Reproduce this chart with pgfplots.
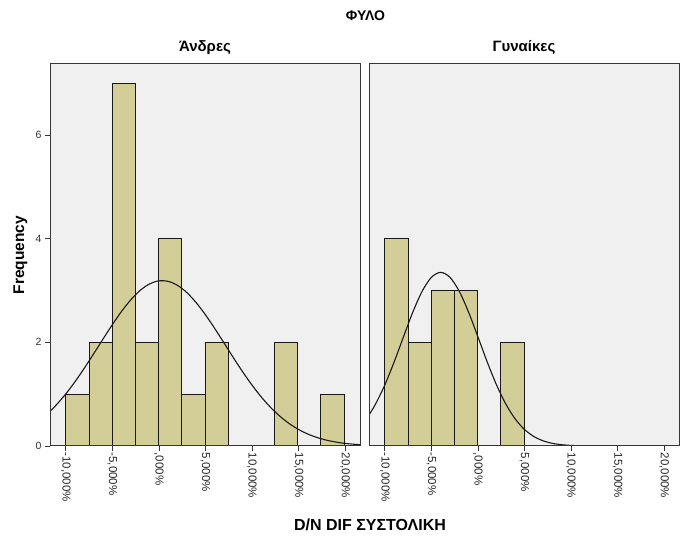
\documentclass[border=0pt]{standalone}
\usepackage{fontspec}
\setmainfont{Liberation Sans}
\usepackage{pgfplots}
\pgfplotsset{compat=1.18}
\definecolor{barfill}{RGB}{211,206,151}
\definecolor{panelbg}{RGB}{240,240,240}
\definecolor{framec}{RGB}{55,55,55}
\pgfplotsset{
  panel/.style={
    scale only axis, width=310bp, height=382bp,
    xmin=-11.7, xmax=21.6, ymin=0, ymax=7.37,
    axis background/.style={fill=panelbg},
    axis line style={framec, line width=1bp},
    tick style={framec, line width=0.8bp},
    tick align=outside, major tick length=5bp,
    xtick pos=lower, ytick pos=left,
    xtick={-10,-5,0,5,10,15,20},
    xticklabels={{-10,000\%},{-5,000\%},{,000\%},{5,000\%},{10,000\%},{15,000\%},{20,000\%}},
    xticklabel style={rotate=-90, anchor=west, font=\fontsize{11.5bp}{12bp}\selectfont, inner sep=1.5bp, text=black!85},
    yticklabel style={font=\fontsize{10.5bp}{11bp}\selectfont, text=black!80},
    /pgf/number format/assume math mode=true,
    title style={at={(0.5,1)}, anchor=base, yshift=7bp, font=\bfseries\fontsize{15bp}{16bp}\selectfont},
    axis on top,
    clip=true,
  },
  hbar/.style={ybar interval, fill=barfill, draw=black!90, line width=0.75bp},
  ncurve/.style={black!90, line width=1.1bp, smooth, mark=none},
}
\begin{document}
\begin{tikzpicture}
\useasboundingbox (0,0) rectangle (683bp,540bp);
\begin{axis}[panel, at={(50bp,94bp)}, anchor=south west, title={Άνδρες}, ytick={0,2,4,6}]
\addplot[hbar] coordinates {(-10,1) (-7.51,2) (-5.02,7) (-2.53,2) (-0.04,4) (2.45,1) (4.94,2) (7.43,0)};
\addplot[hbar] coordinates {(12.41,2) (14.90,0)};
\addplot[hbar] coordinates {(17.39,1) (19.88,0)};
\addplot[ncurve] coordinates {(-11.7,0.668) (-11,0.797) (-10,1.006) (-9,1.244) (-8,1.505) (-7,1.782) (-6,2.065) (-5,2.342) (-4,2.600) (-3,2.825) (-2,3.005) (-1,3.127) (0,3.186) (1,3.176) (2,3.099) (3,2.960) (4,2.766) (5,2.531) (6,2.266) (7,1.986) (8,1.703) (9,1.430) (10,1.175) (11,0.945) (12,0.743) (13,0.573) (14,0.432) (15,0.319) (16,0.230) (17,0.163) (18,0.113) (19,0.076) (20,0.050) (21,0.033) (21.6,0.025)};
\end{axis}
\begin{axis}[panel, at={(369bp,94bp)}, anchor=south west, title={Γυναίκες}, ytick=\empty]
\addplot[hbar] coordinates {(-10,4) (-7.51,2) (-5.02,3) (-2.53,3) (-0.04,0)};
\addplot[hbar] coordinates {(2.45,2) (4.94,0)};
\addplot[ncurve] coordinates {(-11.7,0.599) (-11,0.808) (-10,1.178) (-9,1.621) (-8,2.105) (-7,2.580) (-6,2.983) (-5,3.254) (-4,3.350) (-3,3.254) (-2,2.983) (-1,2.580) (0,2.105) (1,1.621) (2,1.178) (3,0.808) (4,0.523) (5,0.319) (6,0.184) (7,0.100) (8,0.051) (9,0.025) (10,0.011) (11,0.005) (12,0.002) (14,0.0003) (16,0) (21.6,0)};
\end{axis}
\node[font=\bfseries\fontsize{14bp}{15bp}\selectfont, anchor=base] at (365.5bp,519.5bp) {ΦΥΛΟ};
\node[font=\bfseries\fontsize{16bp}{17bp}\selectfont, anchor=base] at (370bp,10bp) {D/N DIF ΣΥΣΤΟΛΙΚΗ};
\node[font=\bfseries\fontsize{15.5bp}{16bp}\selectfont, rotate=90, anchor=base] at (24bp,285bp) {Frequency};
\end{tikzpicture}
\end{document}
